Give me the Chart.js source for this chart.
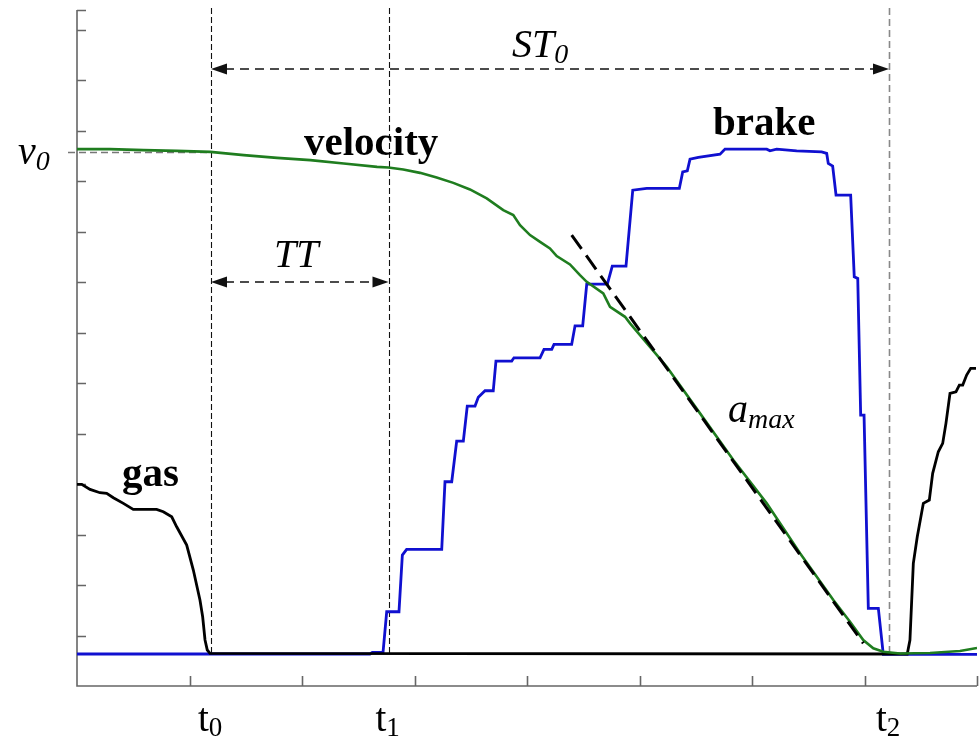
<!DOCTYPE html>
<html>
<head>
<meta charset="utf-8">
<script src="https://cdn.jsdelivr.net/npm/chart.js@4.4.0/dist/chart.umd.min.js"></script>
<style>
  html, body { margin: 0; padding: 0; background: #fff; }
  #wrap { width: 980px; height: 736px; }
</style>
</head>
<body>
<div id="wrap"><canvas id="pedal-chart" width="980" height="736"></canvas></div>
<script>
// time in tick units (0..8), signal level in tick units (0..13.39)
var gasTime  = [0, 0.042, 0.116, 0.204, 0.264, 0.323, 0.412, 0.500, 0.708, 0.767, 0.842, 0.886, 0.975, 1.034, 1.093, 1.117, 1.138, 1.158, 1.182,
                7.380, 7.404, 7.434, 7.469, 7.523, 7.576, 7.606, 7.656, 7.695, 7.724, 7.760, 7.813, 7.843, 7.873, 7.908, 7.944, 7.991];
var gasLevel = [3.994, 3.994, 3.895, 3.828, 3.816, 3.729, 3.618, 3.499, 3.499, 3.451, 3.352, 3.154, 2.792, 2.297, 1.703, 1.372, 0.911, 0.713, 0.648,
                0.634, 0.911, 2.430, 2.956, 3.618, 3.683, 4.212, 4.640, 4.806, 5.202, 5.796, 5.828, 5.960, 5.960, 6.158, 6.291, 6.291];

var brakeTime  = [0, 2.604, 2.625, 2.700, 2.720, 2.753, 2.862, 2.892, 2.930, 3.242, 3.271, 3.331, 3.375, 3.434, 3.469, 3.538, 3.567, 3.627, 3.700,
                  3.724, 3.864, 3.884, 4.116, 4.151, 4.220, 4.240, 4.397, 4.427, 4.495, 4.531, 4.714, 4.758, 4.880, 4.940, 5.064, 5.354,
                  5.384, 5.425, 5.449, 5.523, 5.716, 5.760, 6.131, 6.160, 6.219, 6.397, 6.619, 6.664, 6.678, 6.717, 6.747, 6.877,
                  6.909, 6.940, 6.966, 6.996, 7.034, 7.123, 7.167, 8.0];
var brakeLevel = [0.634, 0.634, 0.664, 0.664, 0.659, 1.471, 1.471, 2.594, 2.707, 2.707, 4.046, 4.046, 4.851, 4.851, 5.545, 5.545, 5.717, 5.848, 5.848,
                  6.436, 6.436, 6.501, 6.501, 6.667, 6.667, 6.766, 6.766, 7.135, 7.135, 7.960, 7.960, 8.317, 8.317, 9.822, 9.855, 9.855,
                  10.184, 10.204, 10.436, 10.469, 10.535, 10.634, 10.634, 10.600, 10.634, 10.600, 10.580, 10.549, 10.350, 10.297, 9.723, 9.723,
                  8.105, 8.073, 5.366, 5.366, 1.539, 1.539, 0.628, 0.628];

var speedTime  = [0, 0.293, 0.593, 0.889, 1.185, 1.482, 1.778, 2.074, 2.371, 2.667, 2.767, 2.900, 3.049, 3.197, 3.345, 3.493, 3.642, 3.789,
                  3.878, 3.938, 4.027, 4.116, 4.204, 4.264, 4.382, 4.471, 4.531, 4.678, 4.738, 4.871, 4.916, 5.093, 5.242, 5.538,
                  5.834, 6.131, 6.427, 6.723, 6.871, 6.989, 7.078, 7.167, 7.316, 7.582, 7.849, 8.0];
var speedLevel = [10.634, 10.634, 10.614, 10.600, 10.580, 10.515, 10.461, 10.416, 10.350, 10.283, 10.271, 10.232, 10.164, 10.073, 9.966, 9.836, 9.657, 9.426,
                  9.327, 9.129, 8.931, 8.798, 8.667, 8.515, 8.350, 8.139, 8.006, 7.776, 7.511, 7.313, 7.182, 6.719, 6.323, 5.400,
                  4.475, 3.618, 2.628, 1.703, 1.273, 0.911, 0.747, 0.679, 0.644, 0.653, 0.693, 0.752];

// maximum deceleration fit
var fitTime  = [4.397, 6.989];
var fitLevel = [8.931, 0.846];

var eventTimes = [1.191, 2.769, 7.218];
var eventNames = ['0', '1', '2'];
var v0Level = 10.574;
var zeroLevel = 0.634;
var xTicks = [1, 2, 3, 4, 5, 6, 7, 8];
var yTicks = [1, 2, 3, 4, 5, 6, 7, 8, 9, 10, 11, 12, 13, 13.39];

function toPoints(xs, ys) {
    return xs.map(function(x, i) { return { x: x, y: ys[i] }; });
}

function arrowHead(ctx, x, y, dir) {
    ctx.beginPath();
    ctx.moveTo(x, y);
    ctx.lineTo(x - dir * 16, y - 5.5);
    ctx.lineTo(x - dir * 16, y + 5.5);
    ctx.closePath();
    ctx.fill();
}

function dimension(ctx, x1, x2, y) {
    ctx.save();
    ctx.strokeStyle = '#111';
    ctx.fillStyle = '#111';
    ctx.lineWidth = 1.3;
    ctx.setLineDash([9, 6]);
    ctx.beginPath();
    ctx.moveTo(x1 + 14, y);
    ctx.lineTo(x2 - 14, y);
    ctx.stroke();
    ctx.setLineDash([]);
    arrowHead(ctx, x1, y, -1);
    arrowHead(ctx, x2, y, 1);
    ctx.restore();
}

// text with a subscript, baseline at (x, y)
function subText(ctx, main, sub, x, y, font, subFont, drop) {
    ctx.font = font;
    ctx.fillText(main, x, y);
    var w = ctx.measureText(main).width;
    ctx.font = subFont;
    ctx.fillText(sub, x + w, y + drop);
}

var overlay = {
    id: 'overlay',
    beforeDatasetsDraw: function(chart) {
        var ctx = chart.ctx, xs = chart.scales.x, ys = chart.scales.y;
        var left = xs.getPixelForValue(0), right = xs.getPixelForValue(8);
        var bottom = ys.getPixelForValue(0), top = ys.getPixelForValue(13.39);
        var zeroY = ys.getPixelForValue(zeroLevel);
        ctx.save();

        // axes
        ctx.strokeStyle = '#666';
        ctx.lineWidth = 1.6;
        ctx.beginPath();
        ctx.moveTo(left, top);
        ctx.lineTo(left, bottom);
        ctx.lineTo(right, bottom);
        ctx.stroke();
        ctx.beginPath();
        yTicks.forEach(function(v) {
            var py = Math.round(ys.getPixelForValue(v)) + 0.5;
            ctx.moveTo(left, py);
            ctx.lineTo(left + 9, py);
        });
        xTicks.forEach(function(v) {
            var px = Math.round(xs.getPixelForValue(v)) + 0.5;
            ctx.moveTo(px, bottom);
            ctx.lineTo(px, bottom - 10);
        });
        ctx.stroke();

        // event markers
        eventTimes.forEach(function(t, i) {
            var px = Math.round(xs.getPixelForValue(t)) + 0.5;
            ctx.beginPath();
            if (i < 2) {
                ctx.strokeStyle = '#111';
                ctx.lineWidth = 1.1;
                ctx.setLineDash([6, 3]);
            } else {
                ctx.strokeStyle = '#888';
                ctx.lineWidth = 1.6;
                ctx.setLineDash([7, 4]);
            }
            ctx.moveTo(px, top - 2);
            ctx.lineTo(px, zeroY);
            ctx.stroke();
        });

        // v0 reference
        var v0y = Math.round(ys.getPixelForValue(v0Level)) + 0.5;
        ctx.strokeStyle = '#777';
        ctx.lineWidth = 1.5;
        ctx.setLineDash([7, 4]);
        ctx.beginPath();
        ctx.moveTo(left - 9, v0y);
        ctx.lineTo(xs.getPixelForValue(eventTimes[0]), v0y);
        ctx.stroke();
        ctx.restore();
    },
    afterDatasetsDraw: function(chart) {
        var ctx = chart.ctx, xs = chart.scales.x, ys = chart.scales.y;
        var t0 = xs.getPixelForValue(eventTimes[0]);
        var t1 = xs.getPixelForValue(eventTimes[1]);
        var t2 = xs.getPixelForValue(eventTimes[2]);

        dimension(ctx, t0, t2, 69);
        dimension(ctx, t0, t1, 282);

        ctx.save();
        ctx.fillStyle = '#000';
        ctx.textBaseline = 'alphabetic';
        ctx.textAlign = 'left';

        ctx.font = 'bold 41px "Liberation Serif"';
        ctx.fillText('velocity', 304, 155);
        ctx.fillText('brake', 713, 135);
        ctx.fillText('gas', 122, 486);

        var ital = 'italic 40px "Liberation Serif"';
        var italSub = 'italic 28px "Liberation Serif"';
        subText(ctx, 'v', '0', 18, 164, ital, italSub, 6);
        subText(ctx, 'ST', '0', 512, 57, ital, italSub, 6);
        ctx.font = ital;
        ctx.fillText('TT', 274, 267);
        subText(ctx, 'a', 'max', 728, 422, ital, italSub, 6);

        eventTimes.forEach(function(t, i) {
            var px = xs.getPixelForValue(t);
            subText(ctx, 't', eventNames[i], px - 13, 731, '39px "Liberation Serif"', '27px "Liberation Serif"', 5);
        });
        ctx.restore();
    }
};

var ctx = document.getElementById('pedal-chart').getContext('2d');
var pedal_chart = new Chart(ctx, {
    type: 'line',
    data: {
        datasets: [
            {
                label: 'a max',
                data: toPoints(fitTime, fitLevel),
                borderColor: '#000',
                borderWidth: 3,
                borderDash: [17, 8],
                order: 0
            },
            {
                label: 'velocity',
                data: toPoints(speedTime, speedLevel),
                borderColor: '#1f7d1f',
                borderWidth: 2.6,
                order: 1
            },
            {
                label: 'gas',
                data: toPoints(gasTime, gasLevel),
                borderColor: '#000',
                borderWidth: 2.8,
                order: 2
            },
            {
                label: 'brake',
                data: toPoints(brakeTime, brakeLevel),
                borderColor: '#1010d0',
                borderWidth: 2.8,
                order: 3
            }
        ]
    },
    options: {
        responsive: false,
        animation: false,
        layout: { padding: { left: 77, top: 10, right: 3, bottom: 50 } },
        elements: { point: { radius: 0 }, line: { tension: 0, borderJoinStyle: 'miter' } },
        scales: {
            x: { type: 'linear', min: 0, max: 8, display: false },
            y: { type: 'linear', min: 0, max: 13.39, display: false }
        },
        plugins: { legend: { display: false }, tooltip: { enabled: false } }
    },
    plugins: [overlay]
});
</script>
</body>
</html>
